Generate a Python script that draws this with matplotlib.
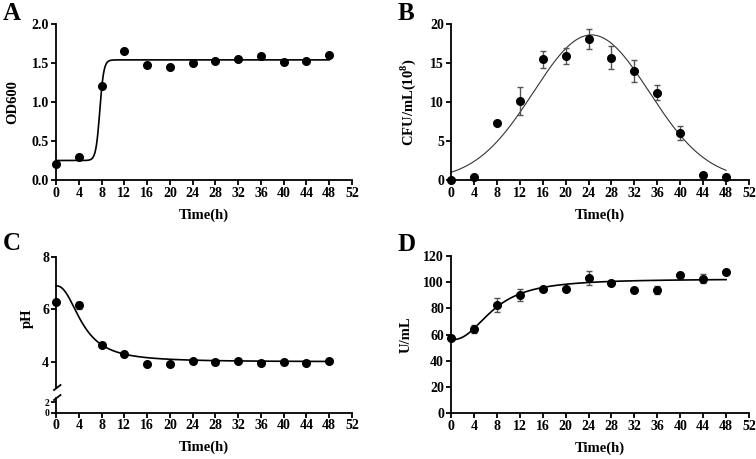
import matplotlib
matplotlib.use("Agg")
import matplotlib.pyplot as plt
import numpy as np

plt.rcParams['font.family'] = ['Liberation Serif', 'DejaVu Serif']
plt.rcParams['font.weight'] = 'bold'
plt.rcParams['axes.labelweight'] = 'bold'
plt.rcParams['mathtext.fontset'] = 'custom'
plt.rcParams['mathtext.rm'] = 'Liberation Serif:bold'
plt.rcParams['mathtext.bf'] = 'Liberation Serif:bold'

# --- data ---
time_h = [0, 4, 8, 12, 16, 20, 24, 28, 32, 36, 40, 44, 48]
xticks = list(range(0, 53, 4))

od600 = [0.21, 0.30, 1.21, 1.65, 1.48, 1.45, 1.50, 1.52, 1.55, 1.59, 1.51, 1.52, 1.60]

cfu = [0.05, 0.35, 7.3, 10.1, 15.5, 15.9, 18.1, 15.7, 14.0, 11.2, 6.0, 0.7, 0.35]
cfu_err = [0, 0, 0, 1.8, 1.1, 1.0, 1.3, 1.5, 1.4, 1.0, 0.9, 0, 0.4]

ph = [6.3, 6.15, 4.65, 4.28, 3.92, 3.93, 4.02, 3.98, 4.02, 3.95, 3.99, 3.95, 4.03]
ph_err = [0, 0.12, 0, 0, 0, 0, 0, 0, 0, 0, 0, 0, 0]

enzyme = [57, 64, 82.5, 90, 95, 94.5, 103, 99.5, 94, 94, 105.5, 102.5, 108]
enzyme_err = [0, 3, 5.5, 4.5, 1, 0, 5.5, 0, 0, 3, 0, 3.5, 0]

# fitted model parameters
fit_a = dict(bottom=0.25, top=1.54, v50=7.7, slope=0.35)     # Boltzmann
fit_b = dict(amp=18.6, center=24.5, sd=10.1)                 # Gaussian
fit_c = dict(top=6.9, bottom=4.0, x50=4.7, hill=2.33)        # 4PL decay
fit_d = dict(bottom=56.0, top=102.5, x50=7.5, hill=2.38)     # 4PL rise

xs = np.linspace(0, 48, 400)
xs_pos = np.linspace(1e-3, 48, 400)
curve_a = fit_a['bottom'] + (fit_a['top'] - fit_a['bottom']) / (1 + np.exp((fit_a['v50'] - xs) / fit_a['slope']))
curve_b = fit_b['amp'] * np.exp(-(xs - fit_b['center']) ** 2 / (2 * fit_b['sd'] ** 2))
curve_c = fit_c['bottom'] + (fit_c['top'] - fit_c['bottom']) / (1 + (xs / fit_c['x50']) ** fit_c['hill'])
curve_d = fit_d['bottom'] + (fit_d['top'] - fit_d['bottom']) / (1 + (fit_d['x50'] / xs_pos) ** fit_d['hill'])

W, H = 756, 459
fig = plt.figure(figsize=(W / 100, H / 100), dpi=100)


def px_axes(left, top, right, bottom):
    return fig.add_axes([left / W, 1 - bottom / H, (right - left) / W, (bottom - top) / H])


def style(ax, xaxis=True):
    for s in ['top', 'right']:
        ax.spines[s].set_visible(False)
    for s in ['left', 'bottom']:
        ax.spines[s].set_linewidth(1.3)
    ax.tick_params(width=1.3, length=3.5, labelsize=10, pad=1.5)
    if xaxis:
        ax.set_xlim(0, 52)
        ax.set_xticks(xticks)
        ax.set_xlabel('Time(h)', fontsize=10.5, labelpad=6)


mk = dict(fmt='o', color='black', ms=5.5, ecolor='#555555', elinewidth=1.0,
          capsize=2.5, capthick=1.0, clip_on=False, zorder=5)

# A
axA = px_axes(56, 24, 352, 180)
style(axA)
axA.plot(xs, curve_a, color='black', lw=1.2, clip_on=False)
axA.plot(time_h, od600, 'o', color='black', ms=5.5, clip_on=False, zorder=5)
axA.set_ylim(0, 2.0)
axA.set_yticks([0, 0.5, 1.0, 1.5, 2.0])
axA.set_yticklabels(['0.0', '0.5', '1.0', '1.5', '2.0'])
axA.set_ylabel('OD600', fontsize=10.5)
axA.yaxis.set_label_coords(-0.125, 0.5)

# B
axB = px_axes(451, 24, 749, 180)
style(axB)
axB.plot(xs, curve_b, color='#333333', lw=0.8, clip_on=False)
axB.errorbar(time_h, cfu, yerr=cfu_err, **mk)
axB.set_ylim(0, 20)
axB.set_yticks([0, 5, 10, 15, 20])
axB.set_ylabel(r'CFU/mL(10$^{8}$)', fontsize=10.5)
axB.yaxis.set_label_coords(-0.11, 0.5)

# C (broken y axis)
axC = px_axes(56, 257, 352, 388)
axC.set_ylim(3.0, 8)
axC.set_yticks([4, 6, 8])
style(axC, xaxis=False)
axC.spines['bottom'].set_visible(False)
axC.set_xlim(0, 52)
axC.set_xticks([])
axC.plot(xs, curve_c, color='black', lw=1.2, clip_on=False)
axC.errorbar(time_h, ph, yerr=ph_err, **mk)
axC.set_ylabel('pH', fontsize=10.5)
axC.yaxis.set_label_coords(-0.075, 0.53)

axC2 = px_axes(56, 397.5, 352, 412.5)
axC2.set_ylim(0, 2.9)
axC2.set_yticks([0, 2])
style(axC2)
axC2.tick_params(axis='y', labelsize=7)
axC2.patch.set_visible(False)

# break marks
for y0 in (387.5, 397.5):
    fig.add_artist(plt.Line2D([54 / W, 60.5 / W], [1 - (y0 + 2.5) / H, 1 - (y0 - 2.5) / H],
                              color='black', lw=1.3))

# D
axD = px_axes(451, 256, 749, 413)
style(axD)
axD.plot(xs, curve_d, color='black', lw=1.2, clip_on=False)
axD.errorbar(time_h, enzyme, yerr=enzyme_err, **mk)
axD.set_ylim(0, 120)
axD.set_yticks(range(0, 121, 20))
axD.set_ylabel('U/mL', fontsize=10.5)
axD.yaxis.set_label_coords(-0.13, 0.5)

# panel letters
for lbl, x, y in [('A', 3, 2), ('B', 398, 2), ('C', 3, 232), ('D', 397, 233)]:
    fig.text(x / W, 1 - y / H, lbl, fontsize=18, fontweight='bold', va='top', ha='left')

fig.savefig('out.png', dpi=100)
